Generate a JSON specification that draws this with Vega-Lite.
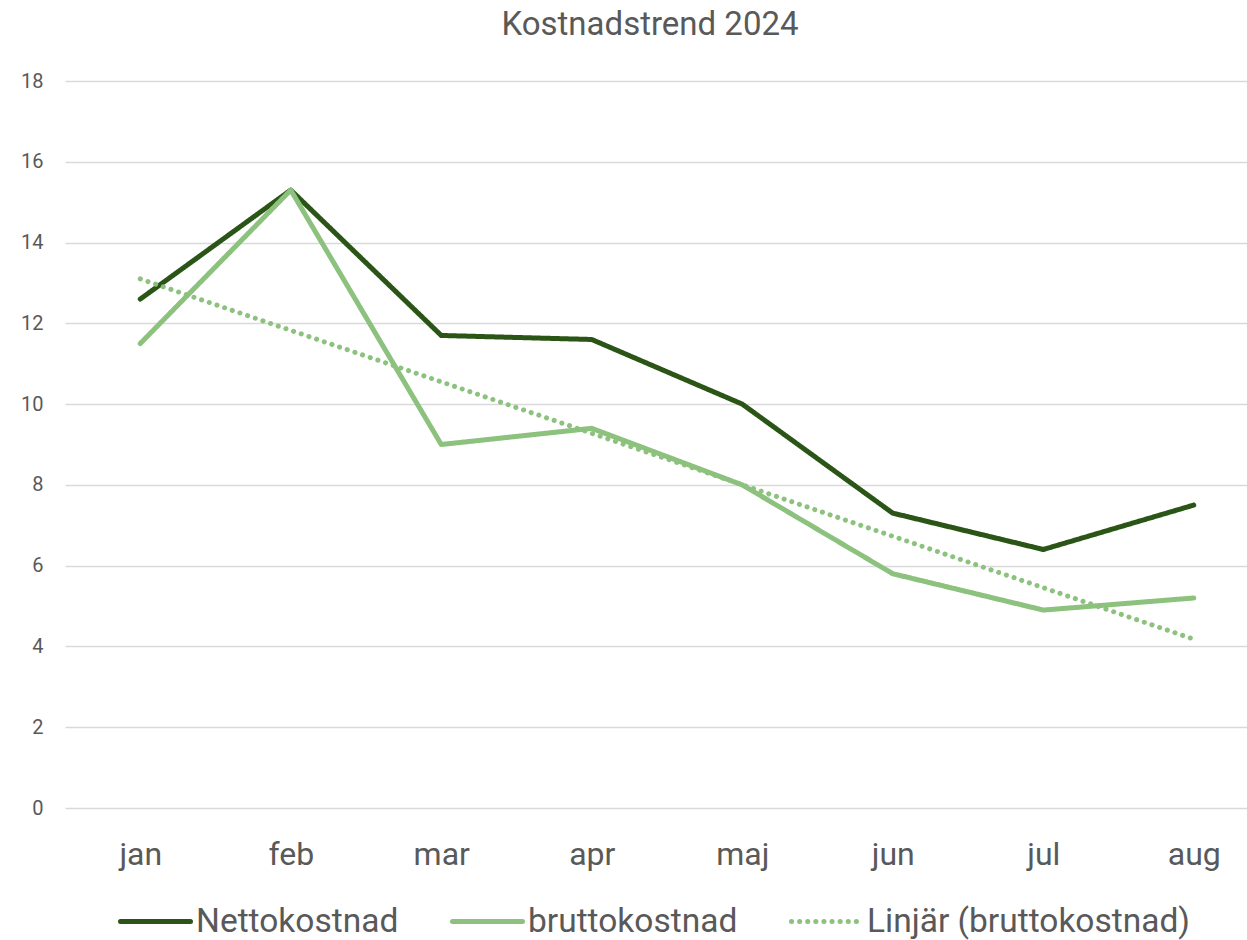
{
  "$schema": "https://vega.github.io/schema/vega-lite/v6.json",
  "autosize": {"type": "none"},
  "padding": {"left": 65, "top": 81, "right": 0, "bottom": 132},
  "width": 1182,
  "height": 727,
  "background": "white",
  "config": {
    "font": "Roboto",
    "view": {"stroke": null}
  },
  "title": {
    "text": "Kostnadstrend 2024",
    "fontSize": 33,
    "fontWeight": "normal",
    "color": "#595959",
    "anchor": "middle",
    "frame": "group",
    "baseline": "alphabetic",
    "offset": 30,
    "dy": 27,
    "dx": -6
  },
  "data": {
    "values": [
      {"month": "jan", "series": "Nettokostnad", "value": 12.6},
      {"month": "feb", "series": "Nettokostnad", "value": 15.3},
      {"month": "mar", "series": "Nettokostnad", "value": 11.7},
      {"month": "apr", "series": "Nettokostnad", "value": 11.6},
      {"month": "maj", "series": "Nettokostnad", "value": 10.0},
      {"month": "jun", "series": "Nettokostnad", "value": 7.3},
      {"month": "jul", "series": "Nettokostnad", "value": 6.4},
      {"month": "aug", "series": "Nettokostnad", "value": 7.5},
      {"month": "jan", "series": "bruttokostnad", "value": 11.5},
      {"month": "feb", "series": "bruttokostnad", "value": 15.3},
      {"month": "mar", "series": "bruttokostnad", "value": 9.0},
      {"month": "apr", "series": "bruttokostnad", "value": 9.4},
      {"month": "maj", "series": "bruttokostnad", "value": 8.0},
      {"month": "jun", "series": "bruttokostnad", "value": 5.8},
      {"month": "jul", "series": "bruttokostnad", "value": 4.9},
      {"month": "aug", "series": "bruttokostnad", "value": 5.2},
      {"month": "jan", "series": "Linjär (bruttokostnad)", "value": 13.1},
      {"month": "aug", "series": "Linjär (bruttokostnad)", "value": 4.18}
    ]
  },
  "encoding": {
    "x": {
      "field": "month",
      "type": "nominal",
      "sort": ["jan", "feb", "mar", "apr", "maj", "jun", "jul", "aug"],
      "scale": {"domain": ["jan", "feb", "mar", "apr", "maj", "jun", "jul", "aug"], "range": [0, 1204], "paddingInner": 0, "paddingOuter": 0},
      "axis": {
        "title": null,
        "labelAngle": 0,
        "labelFontSize": 32,
        "labelColor": "#595959",
        "labelPadding": 31,
        "ticks": false,
        "domain": false,
        "grid": false
      }
    },
    "y": {
      "field": "value",
      "type": "quantitative",
      "scale": {"domain": [0, 18], "nice": false},
      "axis": {
        "title": null,
        "values": [0, 2, 4, 6, 8, 10, 12, 14, 16, 18],
        "labelFontSize": 20,
        "labelColor": "#595959",
        "labelPadding": 22,
        "ticks": false,
        "domain": false,
        "gridColor": "#d9d9d9",
        "gridWidth": 1.5
      }
    },
    "color": {
      "field": "series",
      "type": "nominal",
      "scale": {
        "domain": ["Nettokostnad", "bruttokostnad", "Linjär (bruttokostnad)"],
        "range": ["#2b5516", "#8cc17e", "#8cc17e"]
      },
      "legend": {
        "title": null,
        "orient": "none",
        "direction": "horizontal",
        "legendX": 53,
        "legendY": 803,
        "symbolType": "stroke",
        "symbolSize": 4900,
        "labelFontSize": 33.5,
        "labelColor": "#595959",
        "labelOffset": 3,
        "columnPadding": 43,
        "labelLimit": 600,
        "encode": {
          "symbols": {"update": {"strokeCap": {"value": "round"}}}
        }
      }
    },
    "strokeDash": {
      "field": "series",
      "type": "nominal",
      "scale": {
        "domain": ["Nettokostnad", "bruttokostnad", "Linjär (bruttokostnad)"],
        "range": [[1, 0], [1, 0], [0.1, 8]]
      }
    },
    "strokeWidth": {
      "field": "series",
      "type": "nominal",
      "scale": {
        "domain": ["Nettokostnad", "bruttokostnad", "Linjär (bruttokostnad)"],
        "range": [5, 5, 3]
      }
    }
  },
  "layer": [
    {
      "transform": [{"filter": "datum.series === 'Nettokostnad'"}],
      "mark": {"type": "line", "strokeCap": "round", "strokeJoin": "round"}
    },
    {
      "transform": [{"filter": "datum.series === 'bruttokostnad'"}],
      "mark": {"type": "line", "strokeCap": "round", "strokeJoin": "round"}
    },
    {
      "transform": [{"filter": "datum.series === 'Linjär (bruttokostnad)'"}],
      "mark": {"type": "line", "strokeCap": "round", "strokeJoin": "round"}
    }
  ]
}
